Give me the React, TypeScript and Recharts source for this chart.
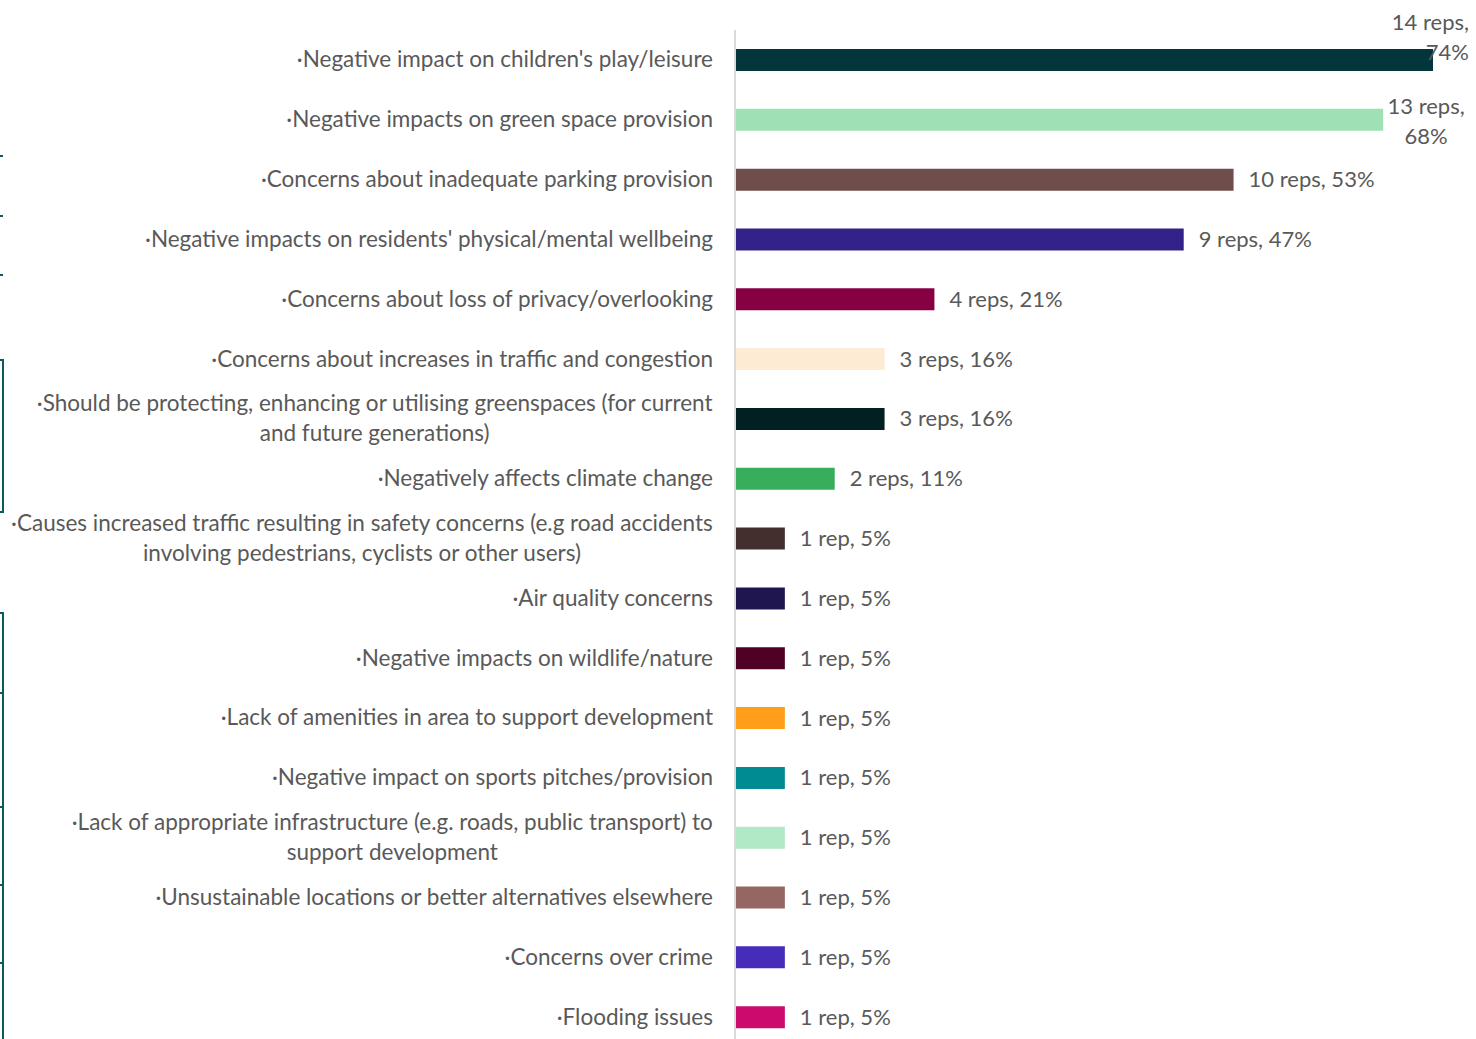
import React from "react";
import { BarChart, Bar, XAxis, YAxis, Cell, LabelList } from "recharts";

const CATEGORIES = [
  "·Negative impact on children's play/leisure",
  "·Negative impacts on green space provision",
  "·Concerns about inadequate parking provision",
  "·Negative impacts on residents' physical/mental wellbeing",
  "·Concerns about loss of privacy/overlooking",
  "·Concerns about increases in traffic and congestion",
  "·Should be protecting, enhancing or utilising greenspaces (for current\nand future generations)",
  "·Negatively affects climate change",
  "·Causes increased traffic resulting in safety concerns (e.g road accidents\ninvolving pedestrians, cyclists or other users)",
  "·Air quality concerns",
  "·Negative impacts on wildlife/nature",
  "·Lack of amenities in area to support development",
  "·Negative impact on sports pitches/provision",
  "·Lack of appropriate infrastructure (e.g. roads, public transport) to\nsupport development",
  "·Unsustainable locations or better alternatives elsewhere",
  "·Concerns over crime",
  "·Flooding issues",
];

const REPS = [14, 13, 10, 9, 4, 3, 3, 2, 1, 1, 1, 1, 1, 1, 1, 1, 1];
const PERCENTS = [74, 68, 53, 47, 21, 16, 16, 11, 5, 5, 5, 5, 5, 5, 5, 5, 5];

const COLORS = [
  "#03363a", "#9fe1b5", "#6e4d4b", "#33228a", "#870042", "#fdebd4",
  "#021f21", "#38ae5c", "#43302e", "#1f1650", "#4f0025", "#fe9e1a",
  "#008a91", "#b1e8c5", "#946762", "#472cba", "#cc0a6d",
];

const FONT = "Lato";
const TICK_SIZE = 22.5;
const LABEL_SIZE = 22;
const TEXT = "#595959";
const WIDTH = 1476;
const HEIGHT = 1047;

const data = CATEGORIES.map((name, i) => ({ name, reps: REPS[i], pct: PERCENTS[i] }));

let ctx: CanvasRenderingContext2D | null = null;
function textWidth(s: string) {
  if (!ctx) ctx = document.createElement("canvas").getContext("2d");
  if (!ctx) return s.length * 10;
  ctx.font = `${TICK_SIZE}px ${FONT}`;
  return ctx.measureText(s).width;
}

const CategoryTick = ({ x, y, payload }: any) => {
  const lines: string[] = String(payload.value).split("\n");
  const right = x - 14;
  if (lines.length === 1) {
    return (
      <text x={right} y={y - 1} textAnchor="end" dominantBaseline="central" fill={TEXT} fontSize={TICK_SIZE} fontFamily={FONT}>
        {lines[0]}
      </text>
    );
  }
  // wrapped labels: lines centred on each other, block right-aligned
  const w = Math.max(...lines.map(textWidth));
  const cx = right - w / 2;
  return (
    <text textAnchor="middle" fill={TEXT} fontSize={TICK_SIZE} fontFamily={FONT}>
      {lines.map((l, i) => (
        <tspan key={i} x={cx} y={y - 16 + i * 30} dominantBaseline="central">
          {l}
        </tspan>
      ))}
    </text>
  );
};

const ValueLabel = (props: any) => {
  const { x, y, width, height, index } = props;
  const reps = REPS[index];
  const pct = PERCENTS[index];
  const first = `${reps} ${reps === 1 ? "rep" : "reps"},`;
  const second = `${pct}%`;
  const cy = y + height / 2;
  const end = x + width;
  const common = { fill: TEXT, fontSize: LABEL_SIZE, fontFamily: FONT, dominantBaseline: "central" as const };
  if (index === 0) {
    // no room on the right: wrapped and pushed above the bar
    return (
      <text textAnchor="end" {...common}>
        <tspan x={WIDTH - 7} y={cy - 39} dominantBaseline="central">{first}</tspan>
        <tspan x={WIDTH - 7} y={cy - 9} dominantBaseline="central">{second}</tspan>
      </text>
    );
  }
  if (index === 1) {
    return (
      <text textAnchor="middle" {...common}>
        <tspan x={end + 43} y={cy - 15} dominantBaseline="central">{first}</tspan>
        <tspan x={end + 43} y={cy + 15} dominantBaseline="central">{second}</tspan>
      </text>
    );
  }
  return (
    <text x={end + 15} y={cy - 1} textAnchor="start" {...common}>
      {`${first} ${second}`}
    </text>
  );
};

// fragments of a neighbouring shape cut off at the left edge
const EDGE = "#0a5c5e";
const EdgeMarks = () => (
  <svg width={6} height={1039} style={{ position: "absolute", left: 0, top: 0 }}>
    {[156, 216, 275].map((t) => (
      <line key={t} x1={0} x2={3} y1={t} y2={t} stroke={EDGE} strokeWidth={2} />
    ))}
    <polyline points="0,360 3,360 3,512 0,512" fill="none" stroke={EDGE} strokeWidth={2} />
    <polyline points="0,613 3,613 3,1039" fill="none" stroke={EDGE} strokeWidth={2} />
    {[693, 807, 885, 963].map((t) => (
      <line key={t} x1={0} x2={3} y1={t} y2={t} stroke={EDGE} strokeWidth={2} />
    ))}
  </svg>
);

export default function App() {
  return (
    <div style={{ position: "absolute", left: 0, top: 0, width: WIDTH, height: 1039, overflow: "hidden", background: "#fff" }}>
      <BarChart
        width={WIDTH}
        height={HEIGHT}
        data={data}
        layout="vertical"
        margin={{ top: 30, right: 43, left: 0, bottom: 0 }}
        barSize={22}
      >
        <XAxis type="number" domain={[0, 14]} hide />
        <YAxis
          type="category"
          dataKey="name"
          width={735}
          axisLine={{ stroke: "#d9d9d9", strokeWidth: 2 }}
          tickLine={false}
          interval={0}
          tick={<CategoryTick />}
        />
        <Bar dataKey="reps" isAnimationActive={false}>
          {data.map((d, i) => (
            <Cell key={d.name} fill={COLORS[i]} />
          ))}
          <LabelList dataKey="reps" content={<ValueLabel />} />
        </Bar>
      </BarChart>
      <EdgeMarks />
    </div>
  );
}
